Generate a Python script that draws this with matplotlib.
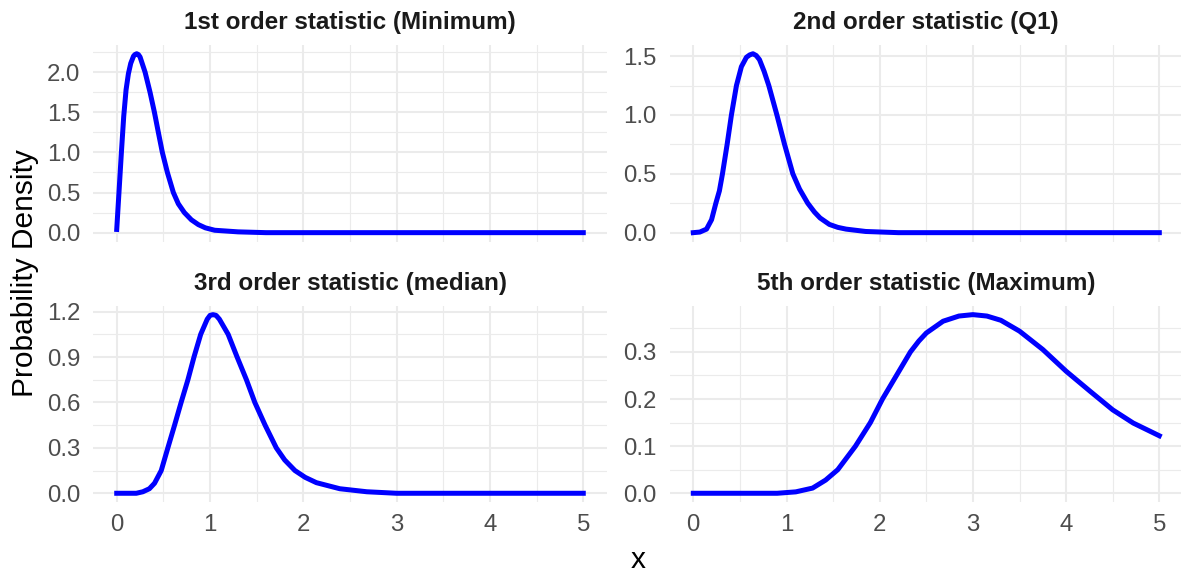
import matplotlib
matplotlib.use('Agg')
import matplotlib.pyplot as plt
from matplotlib.ticker import MultipleLocator, FormatStrFormatter

plt.rcParams['font.family'] = ['Liberation Sans', 'DejaVu Sans']

# density curves
min_x = [0, 0.025, 0.05, 0.075, 0.1, 0.125, 0.15, 0.18, 0.195, 0.214, 0.232, 0.25,
         0.304, 0.357, 0.404, 0.446, 0.489, 0.543, 0.607, 0.66, 0.725, 0.8, 0.875,
         0.95, 1.05, 1.3, 1.6, 5.0]
min_y = [0.04, 0.52, 1.0, 1.45, 1.78, 1.98, 2.11, 2.2, 2.22, 2.23, 2.22, 2.19,
         2.0, 1.75, 1.5, 1.25, 1.0, 0.75, 0.5, 0.36, 0.25, 0.16, 0.1,
         0.06, 0.03, 0.01, 0.0, 0.0]

q1_x = [0, 0.07, 0.142, 0.196, 0.242, 0.28, 0.313, 0.363, 0.409, 0.463, 0.516,
        0.57, 0.605, 0.64, 0.675, 0.71, 0.76, 0.81, 0.897, 0.979, 1.068, 1.14,
        1.228, 1.30, 1.36, 1.46, 1.55, 1.64, 1.85, 2.2, 5.0]
q1_y = [0, 0.005, 0.03, 0.11, 0.25, 0.355, 0.5, 0.75, 1.0, 1.25, 1.41,
        1.49, 1.51, 1.52, 1.505, 1.47, 1.37, 1.25, 1.0, 0.75, 0.5, 0.37,
        0.25, 0.175, 0.125, 0.07, 0.045, 0.03, 0.01, 0.0, 0.0]

med_x = [0, 0.21, 0.28, 0.35, 0.405, 0.477, 0.548, 0.62, 0.69, 0.763, 0.828,
         0.90, 0.97, 1.0, 1.032, 1.065, 1.10, 1.194, 1.29, 1.39, 1.48, 1.59,
         1.71, 1.8, 1.91, 2.02, 2.14, 2.39, 2.68, 3.0, 5.0]
med_y = [0, 0.0, 0.01, 0.03, 0.066, 0.15, 0.3, 0.45, 0.6, 0.75, 0.9,
         1.05, 1.15, 1.175, 1.18, 1.175, 1.15, 1.05, 0.9, 0.75, 0.6, 0.45,
         0.3, 0.22, 0.15, 0.105, 0.07, 0.03, 0.01, 0.0, 0.0]

max_x = [0, 0.9, 1.10, 1.28, 1.42, 1.55, 1.74, 1.90, 2.03, 2.18, 2.33, 2.42,
         2.5, 2.68, 2.85, 3.0, 3.15, 3.3, 3.5, 3.75, 4.0, 4.26, 4.5, 4.72, 5.0]
max_y = [0, 0.0, 0.003, 0.011, 0.028, 0.05, 0.1, 0.15, 0.2, 0.25, 0.3, 0.323,
         0.34, 0.365, 0.376, 0.379, 0.376, 0.367, 0.344, 0.305, 0.259, 0.216,
         0.177, 0.149, 0.122]

titles = ['1st order statistic (Minimum)', '2nd order statistic (Q1)',
          '3rd order statistic (median)', '5th order statistic (Maximum)']
y_steps = [0.5, 0.5, 0.3, 0.1]

W, H = 1181, 574
fig = plt.figure(figsize=(W / 100, H / 100), dpi=100)


def rect(l, t, r, b):
    return [l / W, 1 - b / H, (r - l) / W, (b - t) / H]


boxes = [rect(93.4, 44.8, 606.6, 241.6), rect(670, 44.8, 1182.6, 241.6),
         rect(93.4, 305.7, 606.6, 502.2), rect(670, 305.7, 1182.6, 502.2)]
curves = [(min_x, min_y), (q1_x, q1_y), (med_x, med_y), (max_x, max_y)]

for i, (box, (xs, ys), title, step) in enumerate(zip(boxes, curves, titles, y_steps)):
    ax = fig.add_axes(box)
    ax.plot(xs, ys, color='#0000FF', lw=3.6, solid_joinstyle='round')

    ax.set_xlim(-0.25, 5.25)
    lo, hi = min(ys), max(ys)
    pad = 0.05 * (hi - lo)
    ax.set_ylim(lo - pad, hi + pad)

    ax.xaxis.set_major_locator(MultipleLocator(1))
    ax.xaxis.set_minor_locator(MultipleLocator(0.5))
    ax.yaxis.set_major_locator(MultipleLocator(step))
    ax.yaxis.set_minor_locator(MultipleLocator(step / 2))
    ax.yaxis.set_major_formatter(FormatStrFormatter('%.1f'))

    ax.grid(which='major', color='#EBEBEB', lw=1.5)
    ax.grid(which='minor', color='#EBEBEB', lw=0.8)
    ax.set_axisbelow(True)
    for s in ax.spines.values():
        s.set_visible(False)
    ax.tick_params(which='both', length=0)
    ax.tick_params(axis='y', labelsize=17.3, labelcolor='#4D4D4D', pad=9.5)
    ax.tick_params(axis='x', labelsize=17.3, labelcolor='#4D4D4D', pad=8.5)
    if i < 2:
        ax.tick_params(axis='x', labelbottom=False)

    cx = (box[0] + box[2] / 2)
    ty = 23 if i < 2 else 284
    fig.text(cx, 1 - ty / H, title, ha='center', va='center',
             fontsize=17.5, fontweight='bold', color='#1A1A1A')

fig.text(638 / W, 1 - 560 / H, 'x', ha='center', va='center', fontsize=21.5)
fig.text(25 / W, 1 - 273.5 / H, 'Probability Density', ha='center', va='center',
         rotation=90, fontsize=21.5)

fig.savefig('out.png', dpi=100, facecolor='white')
